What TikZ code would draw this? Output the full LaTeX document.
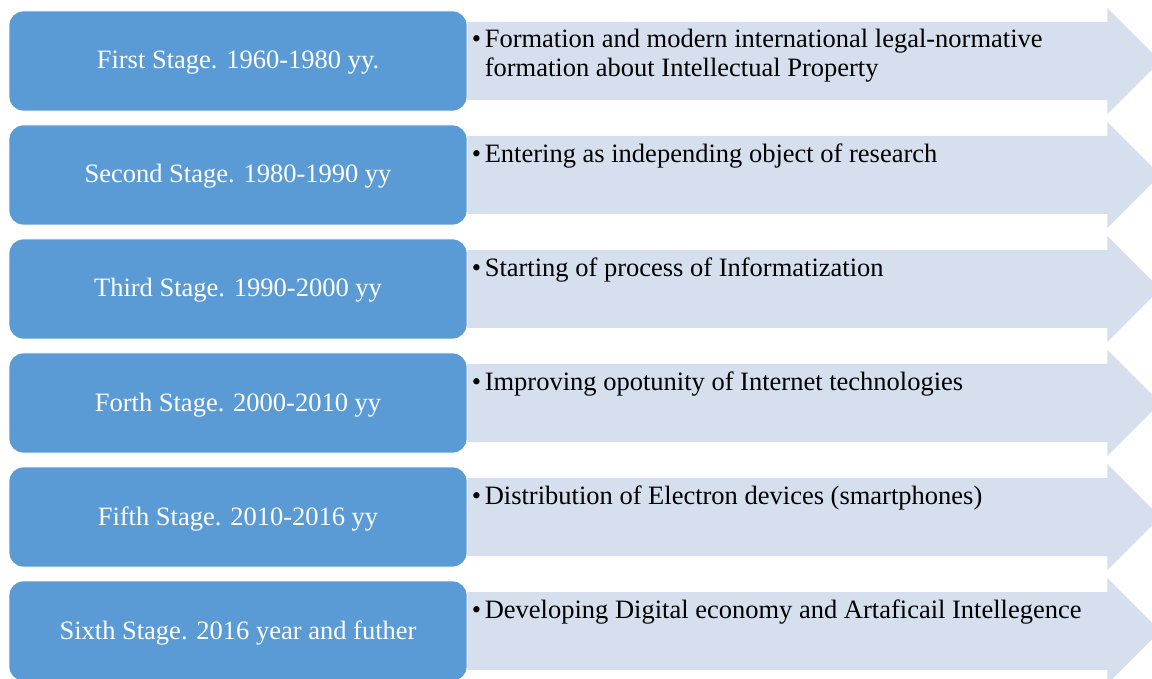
\documentclass[tikz,border=0pt]{standalone}
\usepackage{fontspec}
\setmainfont{Liberation Serif}
\usetikzlibrary{calc,positioning}
\definecolor{stageblue}{HTML}{5B9BD5}
\definecolor{itemblue}{HTML}{D5DFEE}
\newcommand{\itembullet}{\makebox[6.5pt][l]{\textbullet}}

\begin{document}
\begin{tikzpicture}[x=0.5pt,y=-0.5pt,
    stagebox/.style={rounded corners=7pt,rectangle,fill=stageblue,draw=white,thin,
      text=white,minimum width=229pt,minimum height=50pt,inner sep=0pt,
      text height=11pt,text depth=3pt},
    itemtext/.style={anchor=north west,align=left,inner sep=0pt}]
  \useasboundingbox (0,0) rectangle (1152,679);

  \begin{scope}[every node/.style={font=\fontsize{13.25pt}{14.5pt}\selectfont}]
    \foreach \i/\stg/\itm in {
        0/{First Stage. 1960-1980 yy.}/{\itembullet Formation and modern international legal-normative\\\hspace*{6.5pt}formation about Intellectual Property},
        1/{Second Stage. 1980-1990 yy}/{\itembullet Entering as independing object of research},
        2/{Third Stage. 1990-2000 yy}/{\itembullet Starting of process of Informatization},
        3/{Forth Stage. 2000-2010 yy}/{\itembullet Improving opotunity of Internet technologies},
        4/{Fifth Stage. 2010-2016 yy}/{\itembullet Distribution of Electron devices (smartphones)},
        5/{Sixth Stage. 2016 year and futher}/{\itembullet Developing Digital economy and Artaficail Intellegence}}{
      \node[stagebox] (stage\i) at (238,61+114*\i) {\stg};
      % arrow behind the text, running off the right edge
      \fill[itemblue] (stage\i.east) ++(0,-39) -- ++(640,0) -- ++(0,-14)
        -- ++(53,53) -- ++(-53,53) -- ++(0,-14) -- ++(-640,0) -- cycle;
      \node[itemtext] (item\i) at ($(stage\i.east)+(4,-32)$) {\itm};
    }
  \end{scope}
\end{tikzpicture}
\end{document}
